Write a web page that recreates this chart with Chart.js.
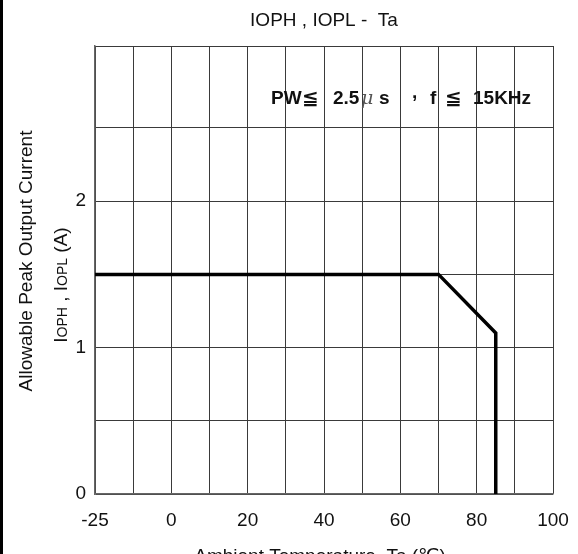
<!DOCTYPE html>
<html>
<head>
<meta charset="utf-8">
<script src="https://cdn.jsdelivr.net/npm/chart.js@4/dist/chart.umd.min.js"></script>
<style>
  html, body { margin: 0; padding: 0; background: #fff; overflow: hidden; }
  canvas { display: block; }
</style>
</head>
<body>
<canvas id="derating" width="578" height="554"></canvas>
<script>
// derating curve
const tempC = [-25, 70, 85, 85];
const currentA = [1.5, 1.5, 1.1, 0];

// the datasheet squeezes -25..0 into one 20-degree cell, so -25 sits on the -20 line
const xTickValues = [-20, 0, 20, 40, 60, 80, 100];
const xTickLabels = ['-25', '0', '20', '40', '60', '80', '100'];
const yTickLabels = ['0', '1', '2'];
const yTop = 3.06; // top row of the scan is a little taller than the rest

const titleText = 'IOPH , IOPL -  Ta';
const xTitle = 'Ambient Temperature  Ta (℃)';
const yTitle = 'Allowable Peak Output Current';

const FONT = '"Liberation Sans", Arial, "DejaVu Sans", sans-serif';

function segWidth(ctx, segs) {
  let w = 0;
  segs.forEach(s => { ctx.font = s.f; w += ctx.measureText(s.t).width; });
  return w;
}

function drawSegs(ctx, segs, x, y) {
  segs.forEach(s => {
    ctx.font = s.f;
    ctx.fillText(s.t, x, y);
    x += ctx.measureText(s.t).width;
  });
}

const textPlugin = {
  id: 'sheetText',
  afterDraw(chart) {
    const ctx = chart.ctx;
    const a = chart.chartArea;
    const cx = (a.left + a.right) / 2;
    ctx.save();
    ctx.fillStyle = '#000';
    ctx.fillRect(0, 0, 3, chart.height);

    ctx.fillStyle = '#111';
    ctx.textBaseline = 'alphabetic';
    ctx.textAlign = 'center';
    ctx.font = '19px ' + FONT;
    ctx.fillText(titleText, cx, 26);

    ctx.fillText(xTitle, cx - 4, 562);

    // condition note inside the plot, pieces placed like the scan
    ctx.textAlign = 'left';
    const b = 'bold 19px ' + FONT;
    const le = 'bold 20px "DejaVu Sans", sans-serif';
    const note = [
      { t: 'PW', f: b, x: 271 },
      { t: '≦', f: le, x: 302 },
      { t: '2.5', f: b, x: 333 },
      { t: 'μ', f: 'italic 19px "DejaVu Serif", serif', x: 361, c: '#555' },
      { t: 's', f: b, x: 379 },
      { t: ',', f: b, x: 412, dy: -6 },
      { t: 'f', f: b, x: 430 },
      { t: '≦', f: le, x: 445 },
      { t: '15KHz', f: b, x: 473 }
    ];
    note.forEach(s => {
      ctx.font = s.f;
      ctx.fillStyle = s.c || '#111';
      ctx.fillText(s.t, s.x, 104 + (s.dy || 0));
    });
    ctx.fillStyle = '#111';

    // rotated y title, two lines
    const big = '19px ' + FONT;
    const small = '14px ' + FONT;
    ctx.save();
    ctx.translate(32, 261);
    ctx.rotate(-Math.PI / 2);
    ctx.textAlign = 'center';
    ctx.font = big;
    ctx.fillText(yTitle, 0, 0);
    ctx.restore();

    const line2 = [
      { t: 'I', f: big },
      { t: 'OPH', f: small },
      { t: ' , ', f: big },
      { t: 'I', f: big },
      { t: 'OPL', f: small },
      { t: ' (A)', f: big }
    ];
    ctx.save();
    ctx.translate(67, 285);
    ctx.rotate(-Math.PI / 2);
    ctx.textAlign = 'left';
    drawSegs(ctx, line2, -segWidth(ctx, line2) / 2, 0);
    ctx.restore();

    ctx.restore();
  }
};

new Chart(document.getElementById('derating'), {
  type: 'line',
  data: {
    datasets: [{
      data: tempC.map((t, i) => ({ x: t, y: currentA[i] })),
      borderColor: '#000',
      borderWidth: 3.5,
      pointRadius: 0,
      tension: 0,
      fill: false,
      clip: 0
    }]
  },
  options: {
    responsive: false,
    animation: false,
    layout: { padding: { top: 46, right: 25, left: 0, bottom: 0 } },
    plugins: {
      legend: { display: false },
      tooltip: { enabled: false }
    },
    scales: {
      x: {
        type: 'linear',
        min: -20,
        max: 100,
        afterBuildTicks(scale) {
          const t = [];
          for (let v = -20; v <= 100; v += 10) t.push({ value: v });
          scale.ticks = t;
        },
        afterFit(scale) {
          scale.height = 60;
          scale.paddingRight = 0;
          scale.paddingLeft = 0;
        },
        grid: { color: '#3a3a3a', lineWidth: 1, drawTicks: false },
        border: { color: '#666', width: 1.5 },
        ticks: {
          padding: 15,
          color: '#111',
          font: { family: FONT, size: 19 },
          maxRotation: 0,
          autoSkip: false,
          callback(v) {
            const i = xTickValues.indexOf(v);
            return i >= 0 ? xTickLabels[i] : '';
          }
        }
      },
      y: {
        min: 0,
        max: yTop,
        afterBuildTicks(scale) {
          const t = [];
          for (let v = 0; v <= 2.5; v += 0.5) t.push({ value: v });
          t.push({ value: yTop });
          scale.ticks = t;
        },
        afterFit(scale) { scale.width = 95; },
        grid: { color: '#3a3a3a', lineWidth: 1, drawTicks: false },
        border: { color: '#666', width: 1.5 },
        ticks: {
          padding: 9,
          color: '#111',
          font: { family: FONT, size: 19 },
          callback(v) {
            const s = String(v);
            return yTickLabels.includes(s) ? s : '';
          }
        }
      }
    }
  },
  plugins: [textPlugin]
});
</script>
</body>
</html>
